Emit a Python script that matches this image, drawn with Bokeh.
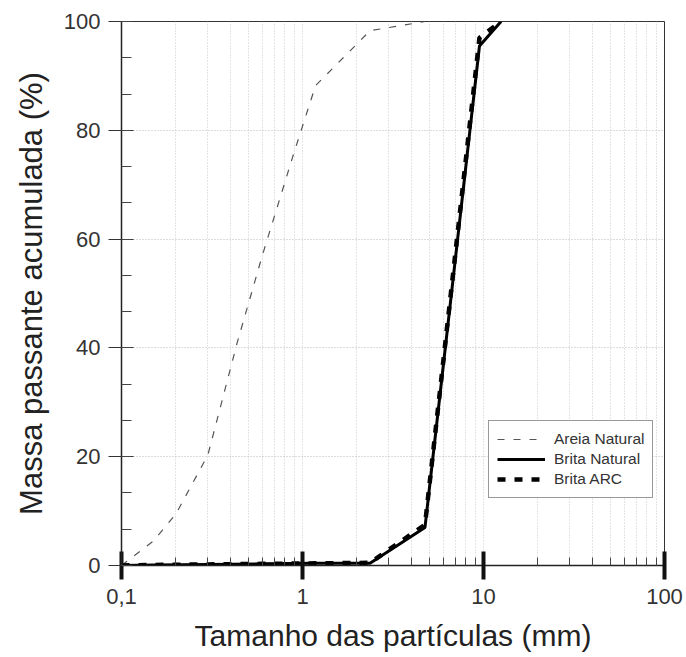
from bokeh.plotting import figure
from bokeh.embed import file_html
from bokeh.resources import INLINE
from bokeh.models import (FixedTicker, CustomJSTickFormatter, SingleIntervalTicker,
                          Legend, LegendItem, Range1d)

# ---- data ----
areia_mm = [0.1, 0.15, 0.2, 0.3, 0.436, 0.6, 0.89, 1.18, 2.36, 4.75]
areia_pct = [0.0, 4.5, 9.5, 20.3, 41.0, 57.0, 75.5, 88.2, 98.3, 100.0]

brita_mm = [0.1, 0.15, 0.3, 0.6, 1.18, 2.36, 4.75, 9.5, 12.5]
brita_nat_pct = [0.0, 0.1, 0.2, 0.3, 0.4, 0.4, 7.0, 95.5, 100.0]
brita_arc_pct = [0.0, 0.1, 0.2, 0.3, 0.4, 0.5, 7.5, 97.0, 100.0]

x_major = [0.1, 1, 10, 100]
x_minor = [k * d for d in (0.1, 1, 10) for k in range(2, 10)]

FONT = "Liberation Sans"

p = figure(width=686, height=657, x_axis_type="log",
           x_range=Range1d(0.1, 100), y_range=Range1d(0, 100),
           output_backend="svg", toolbar_location=None,
           min_border_left=121, min_border_right=22,
           min_border_top=21, min_border_bottom=92,
           background_fill_color="white", border_fill_color="white")

p.outline_line_color = "#333333"
p.outline_line_width = 1

# x axis
xt = FixedTicker(ticks=x_major, minor_ticks=x_minor)
xa = p.xaxis[0]
xa.ticker = xt
xa.formatter = CustomJSTickFormatter(code="return tick.toString().replace('.', ',');")
xa.axis_label = "Tamanho das partículas (mm)"
xa.axis_line_color = "#222222"
xa.axis_line_width = 1.5
xa.major_tick_line_width = 4
xa.major_tick_line_color = "#111111"
xa.major_tick_in = 14
xa.major_tick_out = 14
xa.minor_tick_in = 8
xa.minor_tick_out = 0
xa.minor_tick_line_color = "#444444"
xa.major_label_text_font = FONT
xa.major_label_text_font_size = "22px"
xa.major_label_text_color = "#333333"
xa.major_label_standoff = 9
xa.axis_label_text_font = FONT
xa.axis_label_text_font_size = "30px"
xa.axis_label_text_font_style = "normal"
xa.axis_label_text_color = "#222222"
xa.axis_label_standoff = 12

# y axis
yt = SingleIntervalTicker(interval=20, num_minor_ticks=3)
ya = p.yaxis[0]
ya.ticker = yt
ya.axis_label = "Massa passante acumulada (%)"
ya.axis_line_color = "#222222"
ya.axis_line_width = 1.5
ya.major_tick_line_color = "#333333"
ya.major_tick_line_width = 1
ya.major_tick_in = 12
ya.major_tick_out = 13
ya.minor_tick_in = 10
ya.minor_tick_out = 0
ya.minor_tick_line_color = "#444444"
ya.major_label_text_font = FONT
ya.major_label_text_font_size = "22px"
ya.major_label_text_color = "#333333"
ya.major_label_standoff = 8
ya.axis_label_text_font = FONT
ya.axis_label_text_font_size = "31px"
ya.axis_label_text_font_style = "normal"
ya.axis_label_text_color = "#222222"
ya.axis_label_standoff = 12

# grids
p.xgrid.ticker = xt
p.xgrid.grid_line_color = "#c8c8c8"
p.xgrid.grid_line_dash = "1 2"
p.xgrid.minor_grid_line_color = "#c8c8c8"
p.xgrid.minor_grid_line_dash = "1 2"
p.ygrid.ticker = yt
p.ygrid.grid_line_color = "#bbbbbb"
p.ygrid.grid_line_dash = "1 2"

# curves
r1 = p.line(areia_mm, areia_pct, line_color="#555555", line_width=1.2, line_dash="7 9")
r2 = p.line(brita_mm, brita_nat_pct, line_color="black", line_width=3)
r3 = p.line(brita_mm, brita_arc_pct, line_color="black", line_width=4.5, line_dash="8 9")

legend = Legend(items=[LegendItem(label="Areia Natural", renderers=[r1]),
                       LegendItem(label="Brita Natural", renderers=[r2]),
                       LegendItem(label="Brita ARC", renderers=[r3])],
                location=(367, 67))
legend.glyph_width = 48
legend.glyph_height = 20
legend.label_height = 20
legend.label_standoff = 9
legend.spacing = 0
legend.padding = 8
legend.margin = 0
legend.border_line_color = "#333333"
legend.border_line_width = 1
legend.label_text_font = FONT
legend.label_text_font_size = "15.5px"
legend.label_text_color = "#333333"
p.add_layout(legend)

open("out.html", "w").write(file_html(p, INLINE))
